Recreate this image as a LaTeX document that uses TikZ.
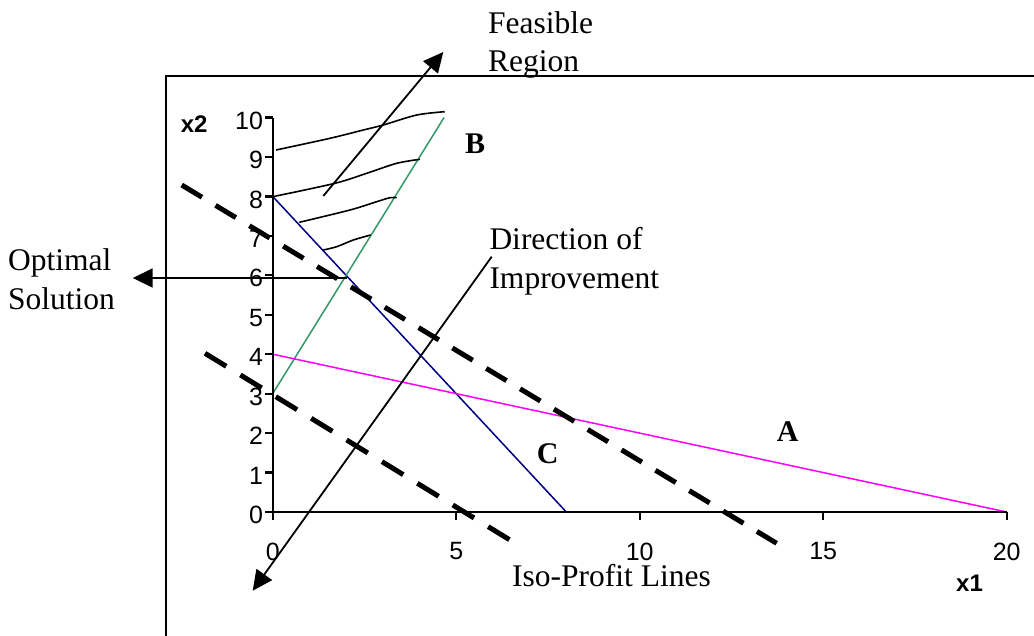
\documentclass[tikz,border=0pt]{standalone}
\usepackage{fontspec}
\setmainfont{Liberation Serif}
\newfontfamily\arialf{Liberation Sans}
\usetikzlibrary{arrows.meta}
\definecolor{seagreen}{HTML}{339966}
\definecolor{navyb}{HTML}{000080}
\definecolor{magentac}{HTML}{FF00FF}
\begin{document}
\begin{tikzpicture}[x=1pt,y=-1pt,
 lbl/.style={font=\fontsize{31.5}{38}\selectfont, inner sep=0pt, anchor=base west},
 blbl/.style={inner sep=0pt, anchor=base west, font=\fontsize{30}{36}\selectfont\bfseries},
 ticklab/.style={font=\arialf\fontsize{25}{29}\selectfont, inner sep=0pt},
 axl/.style={font=\arialf\bfseries\fontsize{24}{28}\selectfont, inner sep=0pt, anchor=base west},
 arr/.style={line width=1.8pt, -{Triangle[length=20pt,width=19pt]}},
 iso/.style={line width=5pt},
 hatch/.style={line width=1.6pt},
]
\useasboundingbox (0,0) rectangle (1034,635);
\fill[white] (0,0) rectangle (1034,635);
% frame
\coordinate (frbl) at (166,640);
\coordinate (frtl) at (166,75.7);
\coordinate (frtr) at (1040,75.7);
\draw[line width=2.4pt] (frbl) -- (frtl) -- (frtr);

% chart in data coordinates
\begin{scope}[shift={(272.7,512)}, x=36.7pt, y=39.45pt]
  \coordinate (O) at (0,0);
  \coordinate (Ytop) at (0,10);
  \coordinate (Xend) at (20,0);
  % constraint lines
  \coordinate (b1) at (0,8); \coordinate (b2) at (8,0);
  \coordinate (g1) at (0,3); \coordinate (g2) at (4.67,10);
  \coordinate (m1) at (0,4); \coordinate (m2) at (20,0);
  \draw[navyb, line width=1.5pt] (b1) -- (b2);
  \draw[seagreen, line width=1.5pt] (g1) -- (g2);
  \draw[magentac, line width=1.5pt] (m1) -- (m2);
  % axes
  \draw[line width=2.3pt] (Ytop) -- (O) -- (Xend);
  \foreach \y in {0,...,10} {
    \draw[line width=2.3pt] (0,\y) -- ++(-8pt,0);
    \node[ticklab, anchor=east] (yl\y) at ([xshift=-9.5pt,yshift=-3pt]0,\y) {\y};
  }
  \foreach \x in {0,5,10,15,20} {
    \draw[line width=2.3pt] (\x,0) -- ++(0,-8pt);
    \node[ticklab] (xl\x) at ([yshift=-39.5pt]\x,0) {\x};
  }
\end{scope}

% hatching of feasible region
\draw[hatch] plot[smooth] coordinates {(276,150) (330,138.3) (363.3,130) (383.3,125) (416.7,115) (444.7,111.7)};
\draw[hatch] plot[smooth] coordinates {(272.7,196.7) (335,183.3) (366.7,173.3) (396.7,163.3) (420,159.3)};
\draw[hatch] plot[smooth] coordinates {(299.3,222.3) (350,210) (376.7,201.7) (390,197.7) (396.7,197.7)};
\draw[hatch] plot[smooth] coordinates {(323.3,250) (336.7,246.7) (353.3,240) (370.7,235)};

% iso-profit lines
\coordinate (iu1) at (181.7,185); \coordinate (iu2) at (776.7,543.3);
\coordinate (il1) at (205,353.3); \coordinate (il2) at (510,540);
\draw[iso, dash pattern=on 23.7pt off 15.8pt] (iu1) -- (iu2);
\draw[iso, dash pattern=on 24.9pt off 16.6pt] (il1) -- (il2);

% arrows
\coordinate (fa) at (323.3,196); \coordinate (fb) at (443.3,52);
\draw[arr] (fa) -- (fb);
\coordinate (oa) at (346.7,278); \coordinate (ob) at (132.7,278);
\draw[arr] (oa) -- (ob);
\coordinate (da) at (491.7,256.7); \coordinate (db) at (252.7,590.7);
\draw[arr] (da) -- (db);

% labels
\node[lbl] (feas1) at (488,33) {Feasible};
\node[lbl] (feas2) at (488,71.7) {Region};
\node[lbl] (opt1) at (8,270) {Optimal};
\node[lbl] (opt2) at (8,309) {Solution};
\node[lbl] (dir1) at (489.3,249) {Direction of};
\node[lbl] (dir2) at (489.3,288) {Improvement};
\node[lbl] (iso) at (512,586) {Iso-Profit Lines};
\node[blbl] (lB) at (465,153.3) {B};
\node[blbl] (lC) at (536.7,463.3) {C};
\node[blbl] (lA) at (776.7,441.7) {A};
\node[axl] (x2) at (180.7,132.7) {x2};
\node[axl] (x1) at (956,591) {x1};
\end{tikzpicture}
\end{document}
